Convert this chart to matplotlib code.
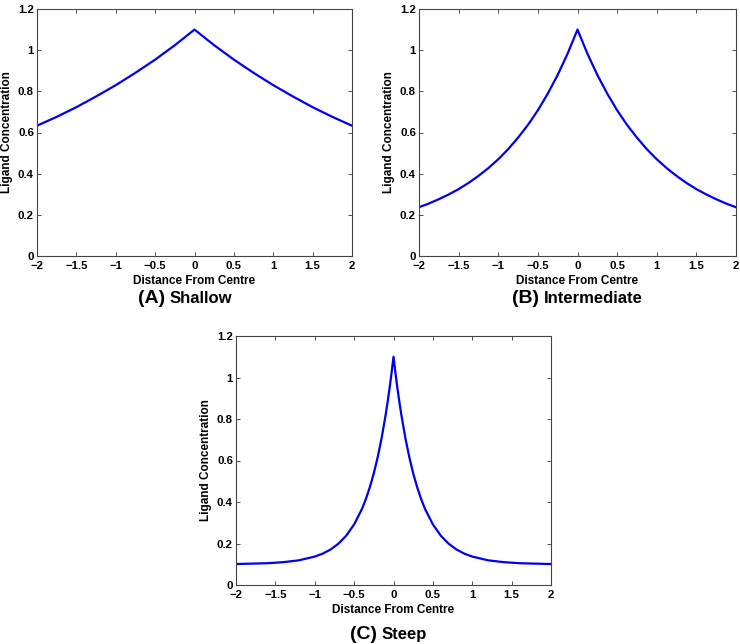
import matplotlib
matplotlib.use("Agg")
import matplotlib.pyplot as plt

# ---- data ----
x_shallow = [-2.0, -1.75, -1.5, -1.25, -1.0, -0.75, -0.5, -0.25, 0.0,
             0.25, 0.5, 0.75, 1.0, 1.25, 1.5, 1.75, 2.0]
y_shallow = [0.633, 0.676, 0.723, 0.775, 0.830, 0.890, 0.954, 1.024, 1.100,
             1.024, 0.954, 0.890, 0.830, 0.775, 0.723, 0.676, 0.633]

x_inter = [-2.0, -1.875, -1.75, -1.625, -1.5, -1.375, -1.25, -1.125, -1.0, -0.875, -0.75,
           -0.625, -0.5, -0.375, -0.25, -0.125, 0.0,
           0.125, 0.25, 0.375, 0.5, 0.625, 0.75, 0.875, 1.0, 1.125, 1.25,
           1.375, 1.5, 1.625, 1.75, 1.875, 2.0]
y_inter = [0.237, 0.255, 0.276, 0.299, 0.325, 0.355, 0.389, 0.427, 0.470, 0.519, 0.575,
           0.637, 0.708, 0.789, 0.880, 0.983, 1.100,
           0.983, 0.880, 0.789, 0.708, 0.637, 0.575, 0.519, 0.470, 0.427, 0.389,
           0.355, 0.325, 0.299, 0.276, 0.255, 0.237]

x_steep = [-2.0, -1.8, -1.6, -1.4, -1.2, -1.0, -0.9, -0.8, -0.7, -0.6, -0.5, -0.4, -0.35,
           -0.3, -0.25, -0.2, -0.15, -0.1, -0.075, -0.05, -0.025, 0.0,
           0.025, 0.05, 0.075, 0.1, 0.15, 0.2, 0.25, 0.3, 0.35, 0.4, 0.5,
           0.6, 0.7, 0.8, 0.9, 1.0, 1.2, 1.4, 1.6, 1.8, 2.0]
y_steep = [0.101, 0.103, 0.105, 0.110, 0.119, 0.137, 0.151, 0.171, 0.199, 0.238, 0.292, 0.367, 0.415,
           0.472, 0.538, 0.617, 0.710, 0.819, 0.881, 0.948, 1.021, 1.100,
           1.021, 0.948, 0.881, 0.819, 0.710, 0.617, 0.538, 0.472, 0.415, 0.367, 0.292,
           0.238, 0.199, 0.171, 0.151, 0.137, 0.119, 0.110, 0.105, 0.103, 0.101]

x_ticks = [-2, -1.5, -1, -0.5, 0, 0.5, 1, 1.5, 2]
x_ticklabels = ["\u22122", "\u22121.5", "\u22121", "\u22120.5", "0", "0.5", "1", "1.5", "2"]
y_ticks = [0, 0.2, 0.4, 0.6, 0.8, 1.0, 1.2]
y_ticklabels = ["0", "0.2", "0.4", "0.6", "0.8", "1", "1.2"]

panel_tags = ["(A)", "(B)", "(C)"]
panel_names = ["Shallow", "Intermediate", "Steep"]
xlabel = "Distance From Centre"
ylabel = "Ligand Concentration"

plt.rcParams['font.family'] = ['Liberation Sans', 'DejaVu Sans']
plt.rcParams['font.weight'] = 'bold'

W, H = 740, 644
fig = plt.figure(figsize=(W / 100, H / 100), dpi=100)

def px_axes(left, top, right, bottom):
    return fig.add_axes([left / W, 1 - bottom / H, (right - left) / W, (bottom - top) / H])

axes = [px_axes(37, 9, 352, 256), px_axes(419, 9, 736, 256), px_axes(236, 336, 551, 585)]
data = [(x_shallow, y_shallow), (x_inter, y_inter), (x_steep, y_steep)]

for ax, (xs, ys) in zip(axes, data):
    ax.plot(xs, ys, color='#0000f0', lw=1.6, solid_joinstyle='round')
    ax.set_xlim(-2, 2)
    ax.set_ylim(0, 1.2)
    ax.set_xticks(x_ticks)
    ax.set_xticklabels(x_ticklabels, fontsize=8.2, fontweight='bold')
    ax.set_yticks(y_ticks)
    ax.set_yticklabels(y_ticklabels, fontsize=8.2, fontweight='bold')
    ax.tick_params(direction='in', length=3, width=0.6, top=True, right=True, color='#333333')
    ax.tick_params(axis='x', pad=3.6)
    ax.tick_params(axis='y', pad=2.2)
    for s in ax.spines.values():
        s.set_linewidth(0.8)
        s.set_color('#444444')
    ax.set_xlabel(xlabel, fontsize=8.5, fontweight='bold')
    ax.set_ylabel(ylabel, fontsize=8.5, fontweight='bold')
    ax.xaxis.set_label_coords(0.5, -0.075)
    ax.yaxis.set_label_coords(-0.075, 0.5)

caption_pos = [(168, 303), (542, 303), (380, 639)]
for (cx, cy), tag, name in zip(caption_pos, panel_tags, panel_names):
    fig.text((cx - 3) / W, 1 - cy / H, tag, fontsize=14, fontweight='bold', ha='right', va='baseline')
    fig.text((cx + 2) / W, 1 - cy / H, name, fontsize=12, fontweight='bold', ha='left', va='baseline')

fig.savefig("out.png", dpi=100)
